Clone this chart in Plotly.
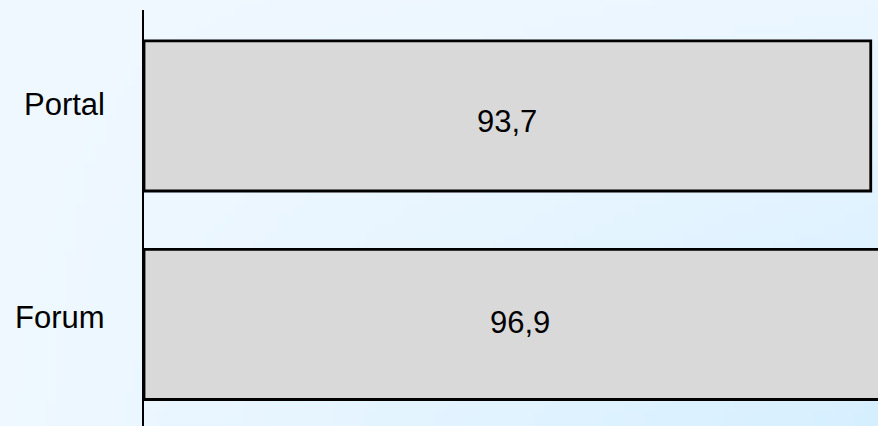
import base64, struct, zlib
import plotly.graph_objects as go

# ---- data ----
categories = ["Forum", "Portal"]
values = [96.9, 93.7]
value_labels = ["96,9", "93,7"]

W, H = 878, 426
ML, MT = 144, 10
PW, PH = W - ML, H - MT

# ---- background gradient as inline PNG ----
def make_png(w, h, corners):
    tl, tr, bl, br = corners
    rows = b""
    for j in range(h):
        v = j / (h - 1)
        row = b"\x00"
        for i in range(w):
            u = i / (w - 1)
            px = []
            for c in range(3):
                top = tl[c] * (1 - u) + tr[c] * u
                bot = bl[c] * (1 - u) + br[c] * u
                px.append(int(round(top * (1 - v) + bot * v)))
            row += bytes(px)
        rows += row
    def chunk(t, d):
        return struct.pack(">I", len(d)) + t + d + struct.pack(">I", zlib.crc32(t + d) & 0xffffffff)
    png = b"\x89PNG\r\n\x1a\n"
    png += chunk(b"IHDR", struct.pack(">IIBBBBB", w, h, 8, 2, 0, 0, 0))
    png += chunk(b"IDAT", zlib.compress(rows))
    png += chunk(b"IEND", b"")
    return "data:image/png;base64," + base64.b64encode(png).decode()

bg = make_png(88, 43, [(240, 248, 255), (235, 246, 255), (239, 248, 255), (214, 239, 255)])

fig = go.Figure()
fig.add_trace(go.Bar(
    y=categories, x=values, orientation="h",
    marker=dict(color="#D9D9D9", line=dict(color="black", width=2.8)),
    hoverinfo="skip",
))

font = dict(family="Liberation Sans, Arial, sans-serif", size=31, color="black")
tick_shift = {"Portal": 11, "Forum": 6.5}
val_shift = {"Portal": -5.5, "Forum": 1.5}
for cat, val, lab in zip(categories, values, value_labels):
    fig.add_annotation(x=0, xref="paper", y=cat, yref="y", text=cat,
                       xanchor="right", xshift=-37, yshift=tick_shift[cat],
                       showarrow=False, font=font)
    fig.add_annotation(x=val / 2, xref="x", y=cat, yref="y", text=lab,
                       xanchor="center", yshift=val_shift[cat],
                       showarrow=False, font=font)

fig.add_layout_image(dict(
    source=bg, xref="paper", yref="paper",
    x=-ML / PW, y=1 + MT / PH, sizex=W / PW, sizey=H / PH,
    xanchor="left", yanchor="top", sizing="stretch", layer="below",
))

fig.update_layout(
    width=W, height=H,
    margin=dict(l=ML, r=0, t=MT, b=0, pad=0),
    paper_bgcolor="#EEF8FF", plot_bgcolor="rgba(0,0,0,0)",
    showlegend=False, bargap=0.28,
    xaxis=dict(range=[0, PW / 7.756], showgrid=False, zeroline=False,
               showticklabels=False, ticks="", showline=False, fixedrange=True),
    yaxis=dict(type="category", categoryorder="array", categoryarray=categories,
               range=[-0.487, 1.508], showgrid=False, zeroline=False,
               showticklabels=False, ticks="", showline=True,
               linecolor="black", linewidth=2, fixedrange=True),
)

fig.write_html(
    "out.html",
    config={"displayModeBar": False},
    post_script="document.body.style.margin='0';document.body.style.overflow='hidden';",
)
